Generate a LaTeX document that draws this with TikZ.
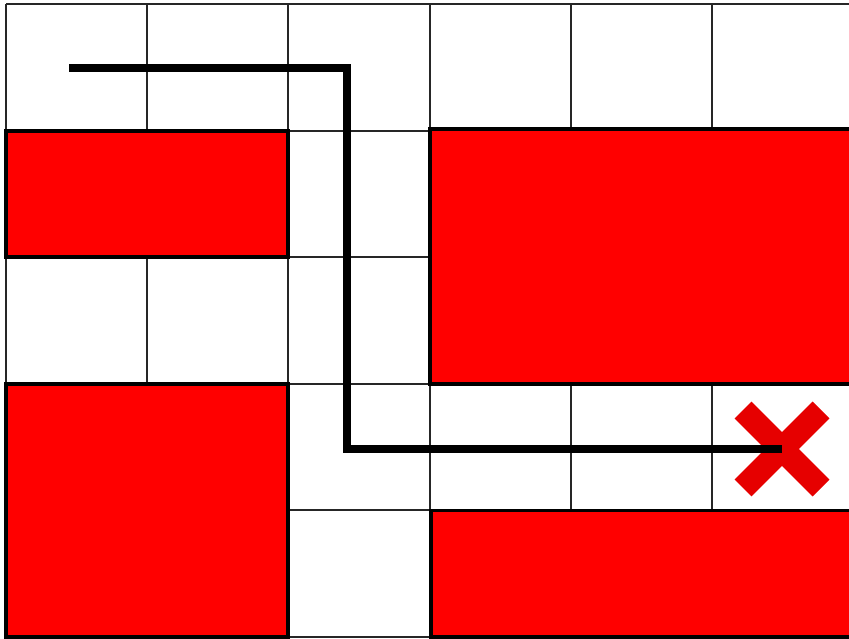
\documentclass[tikz,border=0pt]{standalone}
\usetikzlibrary{positioning}
\definecolor{blockred}{RGB}{255,0,0}
\definecolor{crossred}{RGB}{230,0,0}
\tikzset{
    gridline/.style={draw=black!85, line width=1.1pt},
    obstacle/.style={fill=blockred, draw=black, line width=2.2pt},
    route/.style={draw=black, line width=4.3pt, line join=miter},
    crossarm/.style={draw=crossred, line width=0.48cm}
}
\begin{document}
\begin{tikzpicture}[x=0.02cm, y=-0.02cm]
        \useasboundingbox (0,0) rectangle (849,639);
        \clip (0,0) rectangle (849,639);

        % grid of cells
        \foreach \c in {0,...,6} {
            \draw[gridline] (6+141.2*\c,4) -- (6+141.2*\c,637);
        }
        \foreach \r in {0,...,5} {
            \draw[gridline] (6,4+126.6*\r) -- (860,4+126.6*\r);
        }

        % obstacles
        \draw[obstacle] (6,130.6) rectangle (288,257);
        \draw[obstacle] (430,129) rectangle (870,384);
        \draw[obstacle] (6,384) rectangle (288,637);
        \draw[obstacle] (431,510.5) rectangle (870,637);

        % goal marker
        \coordinate (goal) at (782,449);
        \draw[crossarm] ([shift={(-39,-39)}]goal) -- ([shift={(39,39)}]goal);
        \draw[crossarm] ([shift={(-39,39)}]goal) -- ([shift={(39,-39)}]goal);

        % route
        \coordinate (start) at (69,68);
        \coordinate (bendA) at (347,68);
        \coordinate (bendB) at (347,449);
        \draw[route] (start) -- (bendA) -- (bendB) -- (goal);
    \end{tikzpicture}
\end{document}
